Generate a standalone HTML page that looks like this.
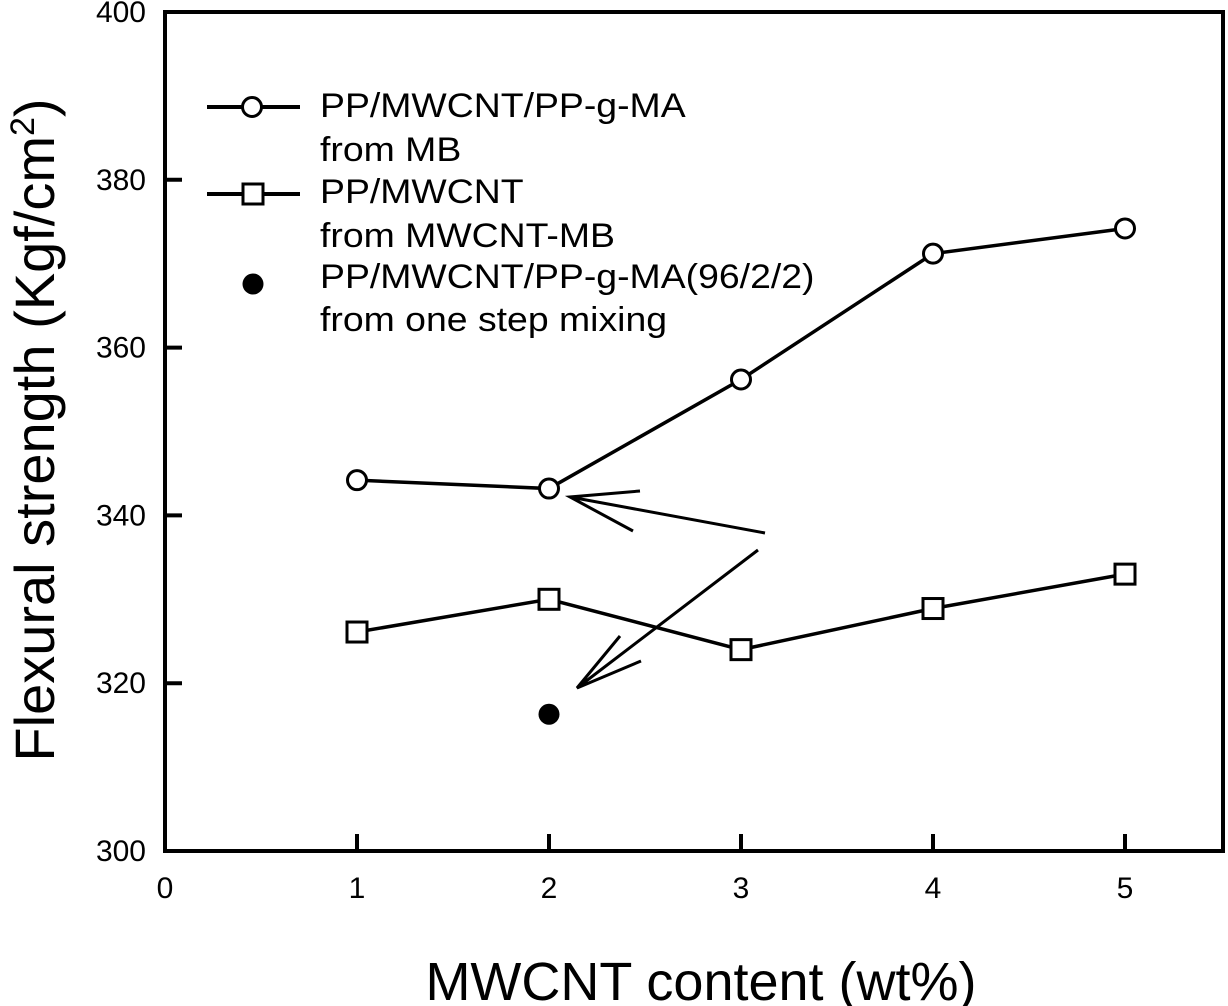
<!DOCTYPE html>
<html><head><meta charset="utf-8"><style>
html,body{margin:0;padding:0;background:#fff;}
svg{display:block;font-family:"Liberation Sans",Arial,sans-serif;}
</style></head><body>
<svg id="chart" width="1228" height="1006" viewBox="0 0 1228 1006">
<g id="axes"></g><g id="marks"></g><g id="legend"></g>
</svg>
<script>
const xCats = [1, 2, 3, 4, 5];
const seriesMB = [344.2, 343.2, 356.2, 371.2, 374.2];
const seriesMWCNTMB = [326.1, 330, 324, 328.9, 333];
const oneStepX = [2];
const oneStepY = [316.3];
const xTicks = [0, 1, 2, 3, 4, 5];
const yTicks = [300, 320, 340, 360, 380, 400];

const NS = "http://www.w3.org/2000/svg";
const L = 165, R = 1223, T = 12, B = 851;
const xs = v => L + v * 192;
const ys = v => B - (v - 300) * (B - T) / 100;
function mk(tag, attrs, parent, text) {
  const e = document.createElementNS(NS, tag);
  for (const k in attrs) e.setAttribute(k, attrs[k]);
  if (text !== undefined) e.textContent = text;
  parent.appendChild(e); return e;
}
const axes = document.getElementById('axes');
const marks = document.getElementById('marks');
const legend = document.getElementById('legend');

let fr = mk('rect', {x: L, y: T, width: R - L, height: B - T, fill: 'none', stroke: '#000', 'stroke-width': 4}, axes);



xTicks.forEach(t => {
  if (t > 0) {
    let tk = mk('line', {x1: xs(t), x2: xs(t), y1: B, y2: B - 17, stroke: '#000', 'stroke-width': 4}, axes);
    
    
  }
  let lb = mk('text', {x: xs(t), y: B + 47, 'font-size': 30, 'text-anchor': 'middle'}, axes, t);
  
  
});
yTicks.forEach(t => {
  let tk = mk('line', {x1: L, x2: L + 17, y1: ys(t), y2: ys(t), stroke: '#000', 'stroke-width': 4}, axes);
  
  
  let lb = mk('text', {x: L - 19, y: ys(t) + 10, 'font-size': 30, 'text-anchor': 'end'}, axes, t);
  
  
});
let xt = mk('text', {x: 701, y: 1000, 'font-size': 54, 'text-anchor': 'middle'}, axes, 'MWCNT content (wt%)');


let yt = mk('text', {x: 0, y: 0, 'font-size': 56, 'text-anchor': 'middle', transform: 'translate(54,430) rotate(-90)'}, axes);


yt.innerHTML = 'Flexural strength (Kgf/cm<tspan dy="-20" font-size="34">2</tspan><tspan dy="20">)</tspan>';

function line(vals, name) {
  let p = mk('polyline', {points: vals.map((v, i) => xs(xCats[i]) + ',' + ys(v)).join(' '), fill: 'none', stroke: '#000', 'stroke-width': 3.5}, marks);
  
  
}
line(seriesMB, 'line-mb');
line(seriesMWCNTMB, 'line-mwcnt-mb');
seriesMB.forEach((v, i) => {
  let c = mk('circle', {cx: xs(xCats[i]), cy: ys(v), r: 9.5, fill: '#fff', stroke: '#000', 'stroke-width': 3}, marks);
  
  
});
seriesMWCNTMB.forEach((v, i) => {
  let s = mk('rect', {x: xs(xCats[i]) - 10, y: ys(v) - 10, width: 20, height: 20, fill: '#fff', stroke: '#000', 'stroke-width': 3}, marks);
  
  
});
oneStepY.forEach((v, i) => {
  let c = mk('circle', {cx: xs(oneStepX[i]), cy: ys(v), r: 10.5, fill: '#000'}, marks);
  
  
});

let a1 = mk('path', {d: 'M765,533 L570,497 M640,491 L570,497 L633,531', fill: 'none', stroke: '#000', 'stroke-width': 3}, marks);


let a2 = mk('path', {d: 'M758,550 L577,688 M620,636 L577,688 L641,661', fill: 'none', stroke: '#000', 'stroke-width': 3}, marks);



let l1 = mk('line', {x1: 207, x2: 300, y1: 107, y2: 107, stroke: '#000', 'stroke-width': 4}, legend);


let c1 = mk('circle', {cx: 252, cy: 107, r: 9.5, fill: '#fff', stroke: '#000', 'stroke-width': 3}, legend);


let l2 = mk('line', {x1: 207, x2: 300, y1: 194, y2: 194, stroke: '#000', 'stroke-width': 4}, legend);


let s2 = mk('rect', {x: 243, y: 184, width: 20, height: 20, fill: '#fff', stroke: '#000', 'stroke-width': 3}, legend);


let c3 = mk('circle', {cx: 253, cy: 284, r: 10.5, fill: '#000'}, legend);


let lg = mk('g', {transform: 'translate(320,0) scale(1.1,1)'}, legend);
[['PP/MWCNT/PP-g-MA', 117], ['from MB', 161], ['PP/MWCNT', 203], ['from MWCNT-MB', 247], ['PP/MWCNT/PP-g-MA(96/2/2)', 288], ['from one step mixing', 331]].forEach(d => {
  let t = mk('text', {x: 0, y: d[1], 'font-size': 34}, lg, d[0]);
  
  
});
</script>
</body></html>
